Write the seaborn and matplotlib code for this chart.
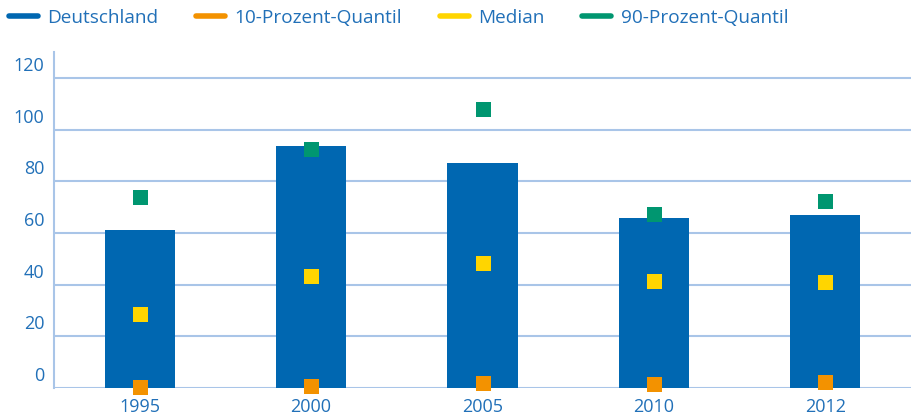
import matplotlib
matplotlib.use("Agg")
import matplotlib.pyplot as plt
import seaborn as sns
import pandas as pd
from matplotlib.lines import Line2D
from matplotlib.transforms import ScaledTranslation

years = ["1995", "2000", "2005", "2010", "2012"]
deutschland = [61, 93.5, 87, 65.6, 67.1]
q10 = [0.3, 0.6, 1.8, 1.4, 2.2]
median = [28.6, 43.3, 48.4, 41.4, 41.1]
q90 = [74, 92.6, 107.8, 67.4, 72.4]
yticks = [0, 20, 40, 60, 80, 100, 120]
labels = ["Deutschland", "10-Prozent-Quantil", "Median", "90-Prozent-Quantil"]

c_bar = "#0067B1"
c_q10 = "#F39200"
c_med = "#FFD500"
c_q90 = "#009670"
c_grid = "#A9C5E8"
c_text = "#2170B8"

sns.set_theme(style="white")
plt.rcParams["font.family"] = ["Open Sans", "DejaVu Sans"]

fig = plt.figure(figsize=(9.11, 4.17), dpi=100)
ax = fig.add_axes([54/911, 29/417, 1 - 54/911, (388-52)/417])

df = pd.DataFrame({"year": years, "de": deutschland, "q10": q10, "med": median, "q90": q90})

sns.barplot(data=df, x="year", y="de", color=c_bar, width=0.41, saturation=1,
            linewidth=0, edgecolor=c_bar, ax=ax, zorder=2)
for col, c in [("q90", c_q90), ("med", c_med), ("q10", c_q10)]:
    sns.stripplot(data=df, x="year", y=col, jitter=False, marker="s", size=10.8,
                  color=c, linewidth=0, ax=ax, zorder=3, clip_on=False)

ax.set_xlim(-0.5, 4.5)
ax.set_ylim(0, 130)
ax.set_xlabel("")
ax.set_ylabel("")
ax.set_yticks(yticks)
ax.set_yticklabels([str(v) for v in yticks])

for s in ["top", "right", "bottom"]:
    ax.spines[s].set_visible(False)
ax.spines["left"].set_color(c_grid)
ax.spines["left"].set_linewidth(1.5)
ax.grid(axis="y", color=c_grid, linewidth=1.5, zorder=1)
ax.set_axisbelow(True)

ax.tick_params(axis="y", length=33, width=1.5, color=c_grid, pad=-26,
               labelsize=13, labelcolor=c_text)
ax.tick_params(axis="x", length=0, pad=7, labelsize=13, labelcolor=c_text)
off = ScaledTranslation(0, 10/72, fig.dpi_scale_trans)
for lbl in ax.get_yticklabels():
    lbl.set_transform(lbl.get_transform() + off)

handles = [Line2D([0], [0], color=c, linewidth=4, solid_capstyle="round")
           for c in [c_bar, c_q10, c_med, c_q90]]
leg = fig.legend(handles, labels, loc="center left", bbox_to_anchor=(9/911, 1 - 18/417),
                 ncol=4, frameon=False, borderpad=0, borderaxespad=0,
                 handlelength=1.5, handletextpad=0.5, columnspacing=2.0,
                 prop={"size": 13.7})
for t in leg.get_texts():
    t.set_color(c_text)

fig.savefig("out.png", dpi=100)
